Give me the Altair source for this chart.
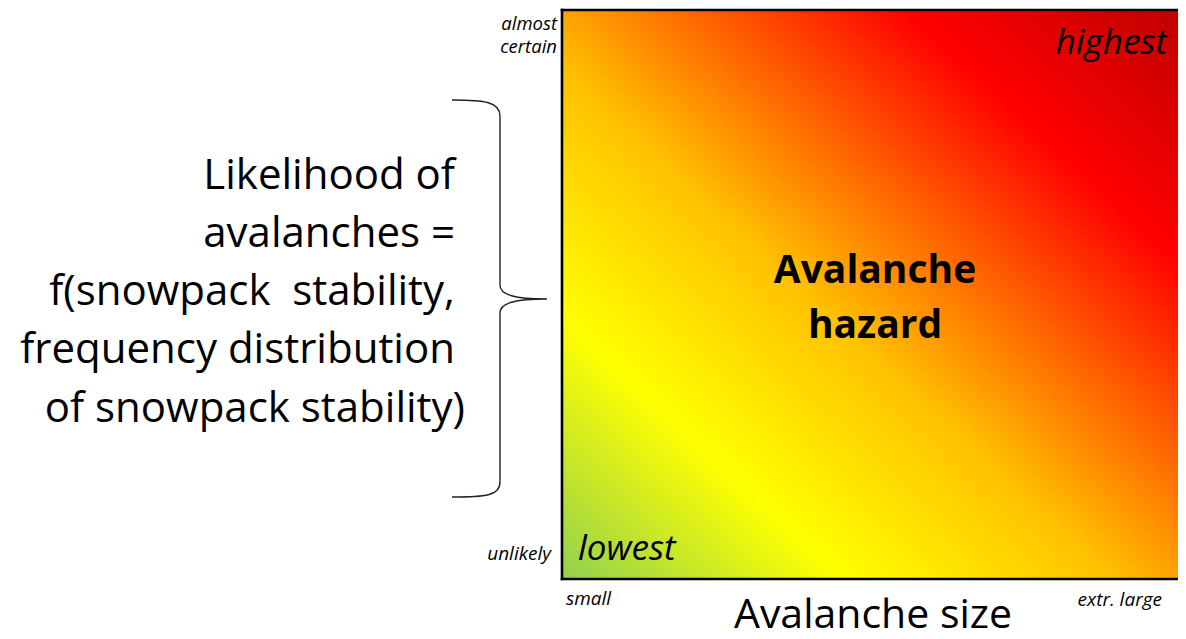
import altair as alt
import pandas as pd

# ---- chart content -------------------------------------------------------
x_labels = ["small", "extr. large"]
y_label_top = ["almost", "certain"]
y_label_bottom = "unlikely"
corner_low = "lowest"
corner_high = "highest"
center_label = ["Avalanche", "hazard"]
x_title = "Avalanche size"
y_title_lines = [
    "Likelihood of",
    "avalanches =",
    "f(snowpack \u00a0stability,",
    "frequency distribution",
]
y_title_last = "of snowpack stability)"

# hazard colour ramp (bottom-left -> top-right)
ramp_colors = ["#92D050", "#FFFF00", "#FFC000", "#FF0000", "#C00000"]
ramp_offsets = [0.0, 0.23, 0.45, 0.78, 1.0]

# ---- layout --------------------------------------------------------------
W, H = 616, 569
FONT = "Open Sans"

box = pd.DataFrame({"x0": [0.0], "x1": [1.0], "y0": [0.0], "y1": [1.0]})
one = pd.DataFrame({"a": [0]})

sx = alt.Scale(domain=[0, 1], nice=False, zero=False)
sy = alt.Scale(domain=[0, 1], nice=False, zero=False)

grad = alt.Gradient(
    gradient="linear",
    stops=[alt.GradientStop(color=c, offset=o) for c, o in zip(ramp_colors, ramp_offsets)],
    x1=0, y1=1, x2=1, y2=0,
)

rect = alt.Chart(box).mark_rect(fill=grad, strokeWidth=0).encode(
    x=alt.X("x0:Q", scale=sx, axis=None),
    x2="x1:Q",
    y=alt.Y("y0:Q", scale=sy, axis=None),
    y2="y1:Q",
)

rule = alt.Chart(one).mark_rule(color="black", strokeWidth=2.6, strokeCap="square")
top_b = rule.encode(x=alt.value(0), x2=alt.value(W + 10), y=alt.value(0))
left_b = rule.encode(x=alt.value(0), y=alt.value(0), y2=alt.value(H))
bot_b = rule.encode(x=alt.value(0), x2=alt.value(W + 10), y=alt.value(H))


def txt(text, x, y, size, align="left", style="normal", weight="normal", line_height=None):
    kw = dict(text=text, align=align, baseline="alphabetic", font=FONT,
              fontSize=size, fontStyle=style, fontWeight=weight, color="black")
    if line_height:
        kw["lineHeight"] = line_height
    return alt.Chart(one).mark_text(**kw).encode(x=alt.value(x), y=alt.value(y))


texts = [
    txt(corner_high, 605, 44, 35, align="right", style="italic"),
    txt(corner_low, 16, 550, 35, align="left", style="italic"),
    txt(center_label, 313, 273, 39, align="center", weight="bold", line_height=55),
    txt(y_label_top[0], -5, 20, 18.5, align="right", style="italic"),
    txt(y_label_top[1], -5, 43, 18.5, align="right", style="italic"),
    txt(y_label_bottom, -11, 550, 19, align="right", style="italic"),
    txt(x_labels[0], 4, 595, 19, align="left", style="italic"),
    txt(x_labels[1], 600, 596, 19, align="right", style="italic"),
    txt(x_title, 311, 618, 41, align="center"),
    txt(y_title_lines, -107, 179, 42, align="right", line_height=58),
    txt(y_title_last, -97, 412, 42, align="right"),
]

brace_path = (
    "M -0.24 -0.995 C -0.075 -0.995 0 -0.985 0 -0.915 L 0 -0.07 "
    "C 0 -0.02 0.075 0 0.235 0 C 0.075 0 0 0.02 0 0.07 L 0 0.915 "
    "C 0 0.985 -0.075 0.99 -0.24 0.99"
)
brace = alt.Chart(one).mark_point(
    shape=brace_path, size=400 * 400, filled=False, fill=None,
    stroke="#222222", strokeWidth=1.4, opacity=1,
).encode(x=alt.value(-62), y=alt.value(289))

chart = alt.layer(rect, top_b, left_b, bot_b, brace, *texts).properties(
    width=W,
    height=H,
    autosize="none",
    padding={"left": 554, "top": 2, "right": 0, "bottom": 52},
).configure_view(stroke=None)

chart.save("out.html", embed_options={"renderer": "svg", "actions": False})
